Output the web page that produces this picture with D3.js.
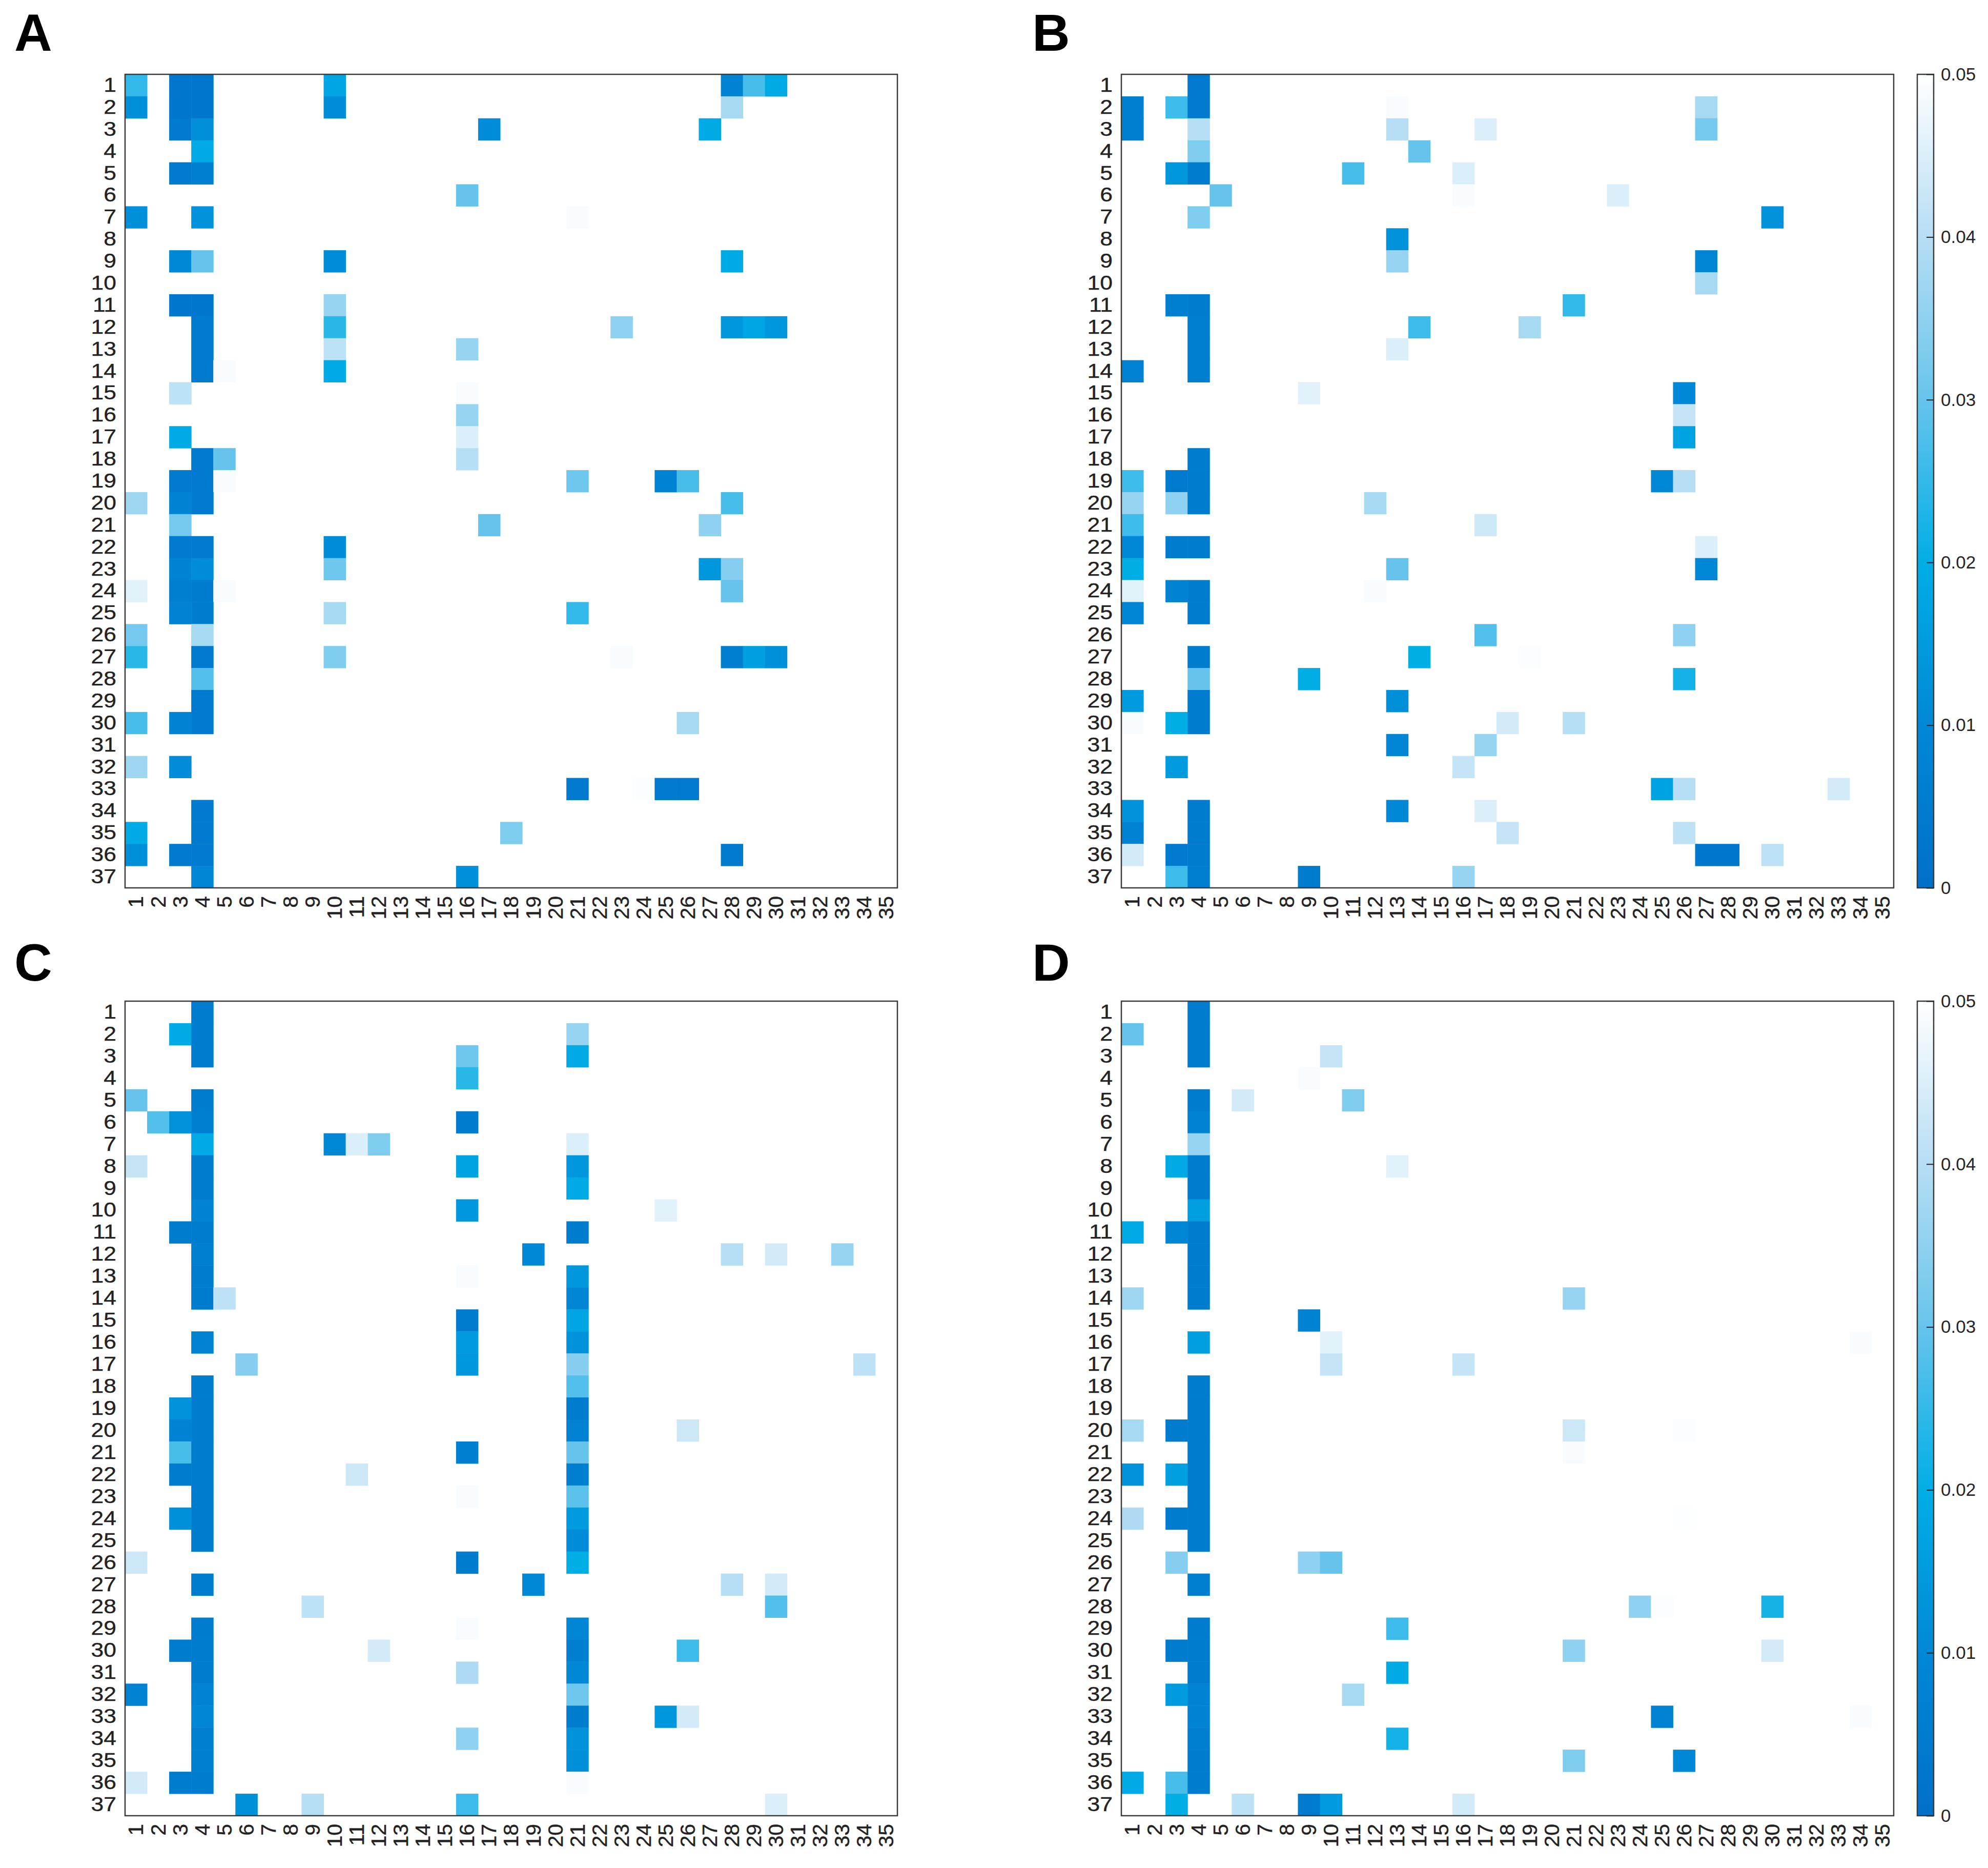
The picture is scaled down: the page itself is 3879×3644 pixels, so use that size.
<!DOCTYPE html>
<html>
<head>
<meta charset="utf-8">
<title>Significance maps A-D</title>
<script src="https://cdnjs.cloudflare.com/ajax/libs/d3/7.8.5/d3.min.js"></script>
<style>
  body { margin: 0; background: #fff; }
  text { font-family: "Liberation Sans", Arial, Helvetica, sans-serif; }
</style>
</head>
<body>
<svg id="chart" width="3879" height="3644"></svg>
<script>
// row / column labels
var rows = d3.range(1, 38);
var cols = d3.range(1, 36);
var cbTicks = [0, 0.01, 0.02, 0.03, 0.04, 0.05];

// cells: [row, column, value]; blank cells are >= 0.05
var panelA = [
  [1,1,0.025],[1,3,0.003],[1,4,0.003],[1,10,0.018],[1,28,0.008],[1,29,0.027],[1,30,0.019],
  [2,1,0.012],[2,3,0.003],[2,4,0.003],[2,10,0.011],[2,28,0.038],
  [3,3,0.004],[3,4,0.012],[3,17,0.011],[3,27,0.019],
  [4,4,0.019],
  [5,3,0.004],[5,4,0.006],
  [6,16,0.030],
  [7,1,0.012],[7,4,0.013],[7,21,0.049],
  [9,3,0.010],[9,4,0.030],[9,10,0.011],[9,28,0.019],
  [11,3,0.003],[11,4,0.003],[11,10,0.036],
  [12,4,0.004],[12,10,0.024],[12,23,0.035],[12,28,0.014],[12,29,0.018],[12,30,0.014],
  [13,4,0.004],[13,10,0.041],[13,16,0.036],
  [14,4,0.004],[14,5,0.049],[14,10,0.019],
  [15,3,0.041],[15,16,0.049],
  [16,16,0.036],
  [17,3,0.019],[17,16,0.045],
  [18,4,0.004],[18,5,0.030],[18,16,0.040],
  [19,3,0.004],[19,4,0.004],[19,5,0.049],[19,21,0.031],[19,25,0.008],[19,26,0.027],
  [20,1,0.037],[20,3,0.008],[20,4,0.004],[20,28,0.027],
  [21,3,0.032],[21,17,0.030],[21,27,0.035],
  [22,3,0.004],[22,4,0.004],[22,10,0.011],
  [23,3,0.008],[23,4,0.011],[23,10,0.031],[23,27,0.014],[23,28,0.034],
  [24,1,0.046],[24,3,0.006],[24,4,0.005],[24,5,0.049],[24,28,0.030],
  [25,3,0.007],[25,4,0.005],[25,10,0.038],[25,21,0.025],
  [26,1,0.032],[26,4,0.038],
  [27,1,0.024],[27,4,0.004],[27,10,0.033],[27,23,0.049],[27,28,0.006],[27,29,0.016],[27,30,0.012],
  [28,4,0.028],
  [29,4,0.004],
  [30,1,0.027],[30,3,0.008],[30,4,0.004],[30,26,0.038],
  [32,1,0.037],[32,3,0.011],
  [33,21,0.004],[33,24,0.0495],[33,25,0.004],[33,26,0.004],
  [34,4,0.004],
  [35,1,0.019],[35,4,0.004],[35,18,0.033],
  [36,1,0.012],[36,3,0.004],[36,4,0.004],[36,28,0.004],
  [37,4,0.009],[37,16,0.012]
];

var panelB = [
  [1,4,0.004],
  [2,1,0.006],[2,3,0.026],[2,4,0.004],[2,13,0.049],[2,27,0.038],
  [3,1,0.006],[3,4,0.040],[3,13,0.040],[3,17,0.045],[3,27,0.032],
  [4,4,0.033],[4,14,0.030],
  [5,3,0.014],[5,4,0.005],[5,11,0.027],[5,16,0.045],
  [6,5,0.030],[6,16,0.049],[6,23,0.045],
  [7,4,0.033],[7,30,0.013],
  [8,13,0.013],
  [9,13,0.036],[9,27,0.009],
  [10,27,0.038],
  [11,3,0.006],[11,4,0.005],[11,21,0.025],
  [12,4,0.006],[12,14,0.026],[12,19,0.038],
  [13,4,0.006],[13,13,0.045],
  [14,1,0.007],[14,4,0.006],
  [15,9,0.046],[15,26,0.010],
  [16,26,0.042],
  [17,26,0.017],
  [18,4,0.005],
  [19,1,0.026],[19,3,0.004],[19,4,0.005],[19,25,0.010],[19,26,0.040],
  [20,1,0.036],[20,3,0.035],[20,4,0.005],[20,12,0.038],
  [21,1,0.026],[21,17,0.043],
  [22,1,0.010],[22,3,0.005],[22,4,0.005],[22,27,0.045],
  [23,1,0.020],[23,13,0.030],[23,27,0.010],
  [24,1,0.046],[24,3,0.008],[24,4,0.005],[24,12,0.049],
  [25,1,0.009],[25,4,0.005],
  [26,17,0.028],[26,26,0.035],
  [27,4,0.005],[27,14,0.020],[27,19,0.0495],
  [28,4,0.030],[28,9,0.020],[28,26,0.022],
  [29,1,0.015],[29,4,0.005],[29,13,0.012],
  [30,1,0.049],[30,3,0.020],[30,4,0.005],[30,18,0.044],[30,21,0.040],
  [31,13,0.009],[31,17,0.036],
  [32,3,0.015],[32,16,0.042],
  [33,25,0.017],[33,26,0.040],[33,33,0.044],
  [34,1,0.013],[34,4,0.005],[34,13,0.010],[34,17,0.045],
  [35,1,0.007],[35,4,0.005],[35,18,0.042],[35,26,0.041],
  [36,1,0.044],[36,3,0.004],[36,4,0.005],[36,27,0.003],[36,28,0.003],[36,30,0.041],
  [37,3,0.026],[37,4,0.006],[37,9,0.005],[37,16,0.036]
];

var panelC = [
  [1,4,0.005],
  [2,3,0.019],[2,4,0.005],[2,21,0.036],
  [3,4,0.005],[3,16,0.031],[3,21,0.019],
  [4,16,0.024],
  [5,1,0.030],[5,4,0.005],
  [6,2,0.028],[6,3,0.013],[6,4,0.006],[6,16,0.005],
  [7,4,0.019],[7,10,0.010],[7,11,0.045],[7,12,0.033],[7,21,0.045],
  [8,1,0.042],[8,4,0.005],[8,16,0.017],[8,21,0.014],
  [9,4,0.005],[9,21,0.019],
  [10,4,0.008],[10,16,0.014],[10,25,0.046],
  [11,3,0.005],[11,4,0.005],[11,21,0.005],
  [12,4,0.006],[12,19,0.010],[12,28,0.040],[12,30,0.044],[12,33,0.036],
  [13,4,0.005],[13,16,0.049],[13,21,0.014],
  [14,4,0.005],[14,5,0.041],[14,21,0.009],
  [15,16,0.005],[15,21,0.018],
  [16,4,0.007],[16,16,0.015],[16,21,0.013],
  [17,6,0.034],[17,16,0.014],[17,21,0.034],[17,34,0.041],
  [18,4,0.005],[18,21,0.028],
  [19,3,0.013],[19,4,0.005],[19,21,0.005],
  [20,3,0.008],[20,4,0.005],[20,21,0.007],[20,26,0.043],
  [21,3,0.027],[21,4,0.005],[21,16,0.006],[21,21,0.030],
  [22,3,0.005],[22,4,0.005],[22,11,0.043],[22,21,0.006],
  [23,4,0.005],[23,16,0.049],[23,21,0.029],
  [24,3,0.012],[24,4,0.005],[24,21,0.015],
  [25,4,0.005],[25,21,0.011],
  [26,1,0.043],[26,16,0.005],[26,21,0.020],
  [27,4,0.005],[27,19,0.010],[27,28,0.040],[27,30,0.044],
  [28,9,0.041],[28,30,0.028],
  [29,4,0.005],[29,16,0.049],[29,21,0.009],
  [30,3,0.005],[30,4,0.005],[30,12,0.044],[30,21,0.006],[30,26,0.026],
  [31,4,0.005],[31,16,0.039],[31,21,0.010],
  [32,1,0.008],[32,4,0.008],[32,21,0.031],
  [33,4,0.009],[33,21,0.005],[33,25,0.014],[33,26,0.044],
  [34,4,0.006],[34,16,0.035],[34,21,0.013],
  [35,4,0.006],[35,21,0.012],
  [36,1,0.044],[36,3,0.005],[36,4,0.005],[36,21,0.049],
  [37,6,0.012],[37,9,0.040],[37,16,0.026],[37,30,0.045]
];

var panelD = [
  [1,4,0.005],
  [2,1,0.030],[2,4,0.005],
  [3,4,0.005],[3,10,0.042],
  [4,9,0.049],
  [5,4,0.005],[5,6,0.044],[5,11,0.033],
  [6,4,0.007],
  [7,4,0.036],
  [8,3,0.019],[8,4,0.005],[8,13,0.046],
  [9,4,0.005],
  [10,4,0.016],
  [11,1,0.019],[11,3,0.009],[11,4,0.005],
  [12,4,0.005],
  [13,4,0.005],
  [14,1,0.037],[14,4,0.005],[14,21,0.036],
  [15,9,0.008],
  [16,4,0.016],[16,10,0.046],[16,34,0.049],
  [17,10,0.042],[17,16,0.042],
  [18,4,0.005],
  [19,4,0.005],
  [20,1,0.038],[20,3,0.005],[20,4,0.005],[20,21,0.043],[20,26,0.0495],
  [21,4,0.005],[21,21,0.049],
  [22,1,0.013],[22,3,0.016],[22,4,0.005],
  [23,4,0.005],
  [24,1,0.039],[24,3,0.005],[24,4,0.005],[24,26,0.0497],
  [25,4,0.005],
  [26,3,0.034],[26,9,0.035],[26,10,0.030],
  [27,4,0.006],
  [28,24,0.035],[28,25,0.0495],[28,30,0.022],
  [29,4,0.005],[29,13,0.026],
  [30,3,0.005],[30,4,0.005],[30,21,0.035],[30,30,0.044],
  [31,4,0.005],[31,13,0.019],
  [32,3,0.015],[32,4,0.008],[32,11,0.038],
  [33,4,0.008],[33,25,0.007],[33,34,0.049],
  [34,4,0.006],[34,13,0.022],
  [35,4,0.005],[35,21,0.033],[35,26,0.010],
  [36,1,0.019],[36,3,0.027],[36,4,0.005],
  [37,3,0.020],[37,6,0.041],[37,9,0.004],[37,10,0.015],[37,16,0.044]
];

var svg = d3.select("#chart");

var color = d3.scaleLinear()
  .domain(cbTicks)
  .range(["#0070c8", "#0088d6", "#00aee6", "#66c4ec", "#b6def4", "#ffffff"])
  .interpolate(d3.interpolateRgb)
  .clamp(true);

var panels = [
  { id: "A", data: panelA, x0: 244, x1: 1751, y0: 145, y1: 1732, lx: 28, ly: 99, bar: false },
  { id: "B", data: panelB, x0: 2188, x1: 3695, y0: 145, y1: 1732, lx: 2014, ly: 99, bar: true },
  { id: "C", data: panelC, x0: 244, x1: 1751, y0: 1953, y1: 3542, lx: 28, ly: 1913, bar: false },
  { id: "D", data: panelD, x0: 2188, x1: 3695, y0: 1953, y1: 3542, lx: 2014, ly: 1913, bar: true }
];

var sx = 1.14;   // the figure's row labels are a little wider than they are tall

panels.forEach(function (p) {
  var x = d3.scaleBand().domain(cols).range([p.x0, p.x1]);
  var y = d3.scaleBand().domain(rows).range([p.y0, p.y1]);
  var g = svg.append("g");

  g.append("rect")
    .attr("x", p.x0).attr("y", p.y0)
    .attr("width", p.x1 - p.x0).attr("height", p.y1 - p.y0)
    .attr("fill", "#fff");

  g.append("g").selectAll("rect")
    .data(p.data)
    .enter().append("rect")
    .attr("x", function (d) { return x(d[1]); })
    .attr("y", function (d) { return y(d[0]); })
    .attr("width", x.bandwidth() + 0.5)
    .attr("height", y.bandwidth() + 0.5)
    .attr("fill", function (d) { return color(d[2]); });

  g.append("rect")
    .attr("x", p.x0).attr("y", p.y0)
    .attr("width", p.x1 - p.x0).attr("height", p.y1 - p.y0)
    .attr("fill", "none")
    .attr("stroke", "#3a3a3a")
    .attr("stroke-width", 2.5);

  var ya = g.append("g")
    .attr("transform", "translate(" + p.x0 + ",0)")
    .call(d3.axisLeft(y).tickSize(0));
  ya.select(".domain").remove();
  ya.selectAll("text")
    .attr("x", -17 / sx)
    .attr("transform", "scale(" + sx + ",1)")
    .attr("font-size", 39)
    .attr("fill", "#222")
    .attr("stroke", "#222").attr("stroke-width", 0.4)
    .style("font-family", "'Liberation Sans', Arial, sans-serif");

  var xa = g.append("g")
    .attr("transform", "translate(0," + p.y1 + ")")
    .call(d3.axisBottom(x).tickSize(0));
  xa.select(".domain").remove();
  xa.selectAll("text")
    .attr("transform", "rotate(-90)")
    .attr("x", -16).attr("y", 0).attr("dy", "0.34em")
    .attr("text-anchor", "end")
    .attr("font-size", 41)
    .attr("fill", "#222")
    .attr("stroke", "#222").attr("stroke-width", 0.4)
    .style("font-family", "'Liberation Sans', Arial, sans-serif");

  svg.append("text")
    .attr("x", p.lx).attr("y", p.ly)
    .attr("font-size", 102)
    .attr("font-weight", "bold")
    .attr("fill", "#000")
    .text(p.id);

  if (p.bar) {
    var bx0 = 3741, bx1 = 3773;
    var cy = d3.scaleLinear().domain([0, 0.05]).range([p.y1, p.y0]);
    var gid = "grad" + p.id;
    var grad = svg.append("defs").append("linearGradient")
      .attr("id", gid)
      .attr("x1", 0).attr("y1", 1).attr("x2", 0).attr("y2", 0);
    d3.range(0, 0.0501, 0.0025).forEach(function (v) {
      grad.append("stop")
        .attr("offset", v / 0.05)
        .attr("stop-color", color(v));
    });
    svg.append("rect")
      .attr("x", bx0).attr("y", p.y0)
      .attr("width", bx1 - bx0).attr("height", p.y1 - p.y0)
      .attr("fill", "url(#" + gid + ")")
      .attr("stroke", "#3a3a3a")
      .attr("stroke-width", 2.5);
    var ca = svg.append("g")
      .attr("transform", "translate(" + bx1 + ",0)")
      .call(d3.axisRight(cy)
        .tickValues(cbTicks)
        .tickSize(-14)
        .tickPadding(14)
        .tickFormat(function (d) { return d === 0 ? "0" : d3.format(".2f")(d); }));
    ca.select(".domain").remove();
    ca.selectAll("line").attr("stroke", "#262626").attr("stroke-width", 2);
    ca.selectAll("text")
      .attr("font-size", 35)
      .attr("fill", "#262626")
      .style("font-family", "'Liberation Sans', Arial, sans-serif");
  }
});
</script>
</body>
</html>
